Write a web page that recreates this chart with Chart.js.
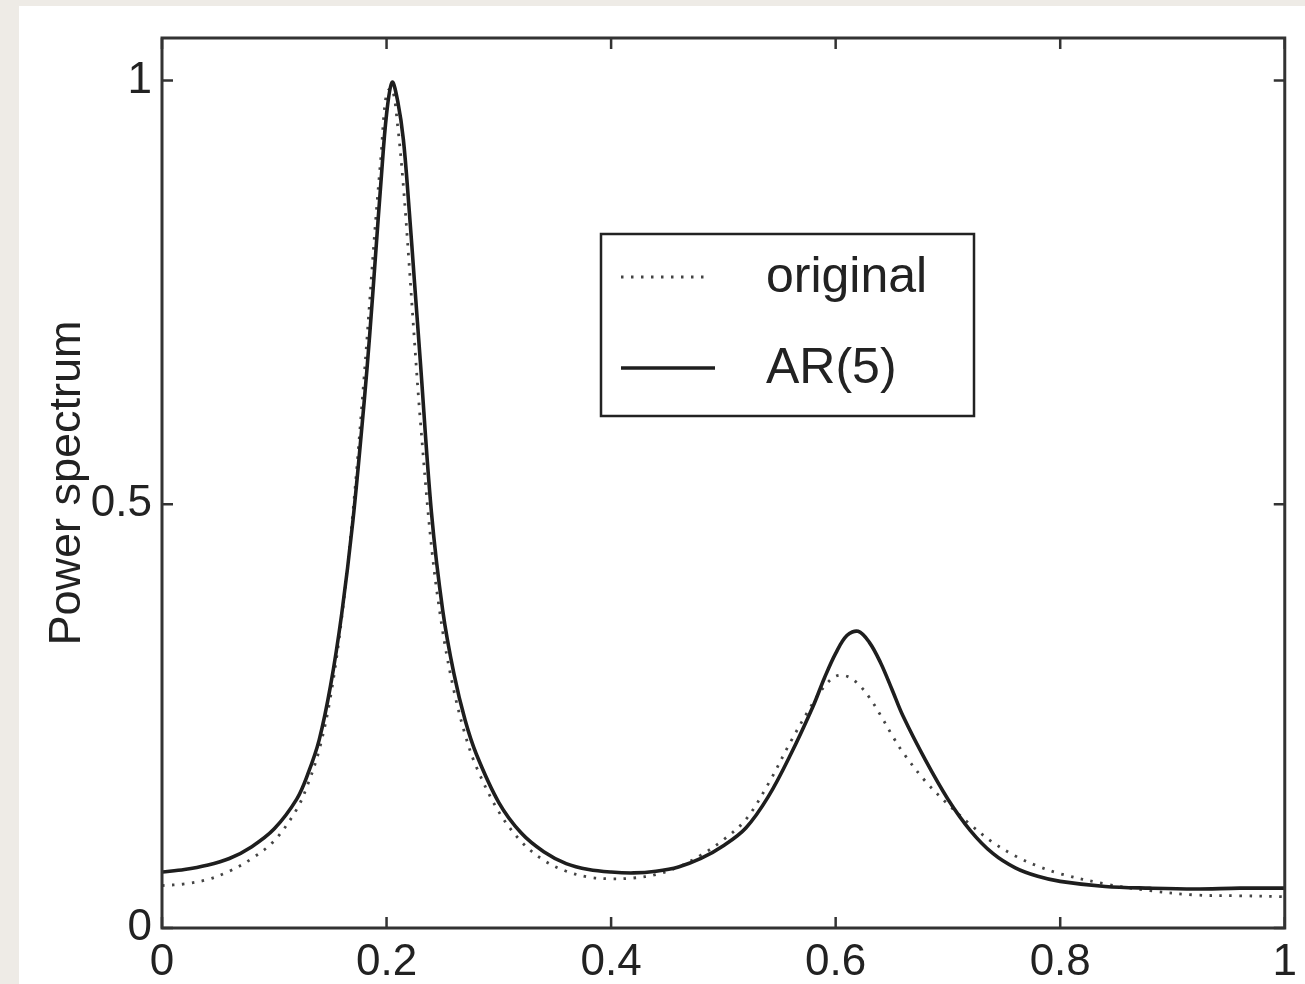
<!DOCTYPE html>
<html>
<head>
<meta charset="utf-8">
<script src="https://cdn.jsdelivr.net/npm/chart.js@4.4.0/dist/chart.umd.min.js"></script>
<style>
  html, body { margin: 0; padding: 0; background: #eeebe6; }
  #wrap { position: relative; width: 1305px; height: 984px; overflow: hidden; }
  #panel { position: absolute; left: 19px; top: 6px; right: 0; bottom: 0; background: #ffffff; }
  #chart { position: absolute; left: 0; top: 0; }
</style>
</head>
<body>
<div id="wrap">
  <div id="panel"></div>
  <canvas id="chart" width="1305" height="984"></canvas>
</div>
<script>
// normalized frequency
const freq = [0, 0.02, 0.04, 0.06, 0.08, 0.10, 0.12, 0.13, 0.14, 0.15, 0.16, 0.17, 0.18, 0.185, 0.19, 0.195,
  0.20, 0.205, 0.21, 0.215, 0.22, 0.225, 0.23, 0.24, 0.25, 0.26, 0.27, 0.28, 0.30, 0.32, 0.34, 0.36, 0.38,
  0.40, 0.42, 0.44, 0.46, 0.48, 0.50, 0.52, 0.54, 0.56, 0.58, 0.59, 0.60, 0.61, 0.62, 0.63, 0.64, 0.65,
  0.66, 0.68, 0.70, 0.72, 0.74, 0.76, 0.78, 0.80, 0.84, 0.88, 0.92, 0.96, 1.0]

// original spectrum (dotted)
const original = [0.050, 0.052, 0.057, 0.067, 0.082, 0.103, 0.140, 0.170, 0.210, 0.272, 0.365, 0.49, 0.65, 0.74, 0.83, 0.91,
  0.985, 0.99, 0.945, 0.875, 0.785, 0.69, 0.60, 0.45, 0.35, 0.28, 0.228, 0.19, 0.137, 0.102, 0.080, 0.067, 0.060,
  0.058, 0.059, 0.063, 0.072, 0.086, 0.104, 0.128, 0.170, 0.220, 0.266, 0.285, 0.297, 0.297, 0.288, 0.272, 0.251, 0.228,
  0.207, 0.173, 0.146, 0.122, 0.101, 0.085, 0.073, 0.064, 0.052, 0.044, 0.039, 0.038, 0.037]

// AR(5) estimate (solid)
const ar5 = [0.066, 0.069, 0.074, 0.082, 0.096, 0.117, 0.152, 0.182, 0.222, 0.285, 0.37, 0.48, 0.62, 0.70, 0.79, 0.88,
  0.96, 0.998, 0.975, 0.93, 0.85, 0.76, 0.67, 0.49, 0.375, 0.30, 0.245, 0.205, 0.148, 0.112, 0.090, 0.076, 0.069,
  0.066, 0.065, 0.067, 0.072, 0.082, 0.097, 0.118, 0.155, 0.205, 0.262, 0.295, 0.324, 0.345, 0.350, 0.337, 0.313, 0.282,
  0.250, 0.198, 0.152, 0.115, 0.088, 0.071, 0.061, 0.055, 0.049, 0.047, 0.046, 0.047, 0.047]

const xTicks = [0, 0.2, 0.4, 0.6, 0.8, 1]
const yTicks = [0, 0.5, 1]
const seriesNames = ['original', 'AR(5)']

const FONT = 'Liberation Sans, Arial, sans-serif'
const INK = '#222222'

// box round the plot, inward ticks on all sides, and the boxed legend
const frame = {
  id: 'frame',
  afterDraw(chart) {
    const ctx = chart.ctx
    const a = chart.chartArea
    const xs = chart.scales.x, ys = chart.scales.y
    const tl = 11
    ctx.save()
    ctx.strokeStyle = '#333333'
    ctx.lineWidth = 3
    ctx.strokeRect(a.left, a.top, a.right - a.left, a.bottom - a.top)
    ctx.lineWidth = 2.5
    ctx.beginPath()
    for (const v of xTicks) {
      const px = xs.getPixelForValue(v)
      ctx.moveTo(px, a.bottom); ctx.lineTo(px, a.bottom - tl)
      ctx.moveTo(px, a.top); ctx.lineTo(px, a.top + tl)
    }
    for (const v of yTicks) {
      const py = ys.getPixelForValue(v)
      ctx.moveTo(a.left, py); ctx.lineTo(a.left + tl, py)
      ctx.moveTo(a.right, py); ctx.lineTo(a.right - tl, py)
    }
    ctx.stroke()

    // legend
    const bx = 601, by = 234, bw = 373, bh = 182
    ctx.lineWidth = 2.5
    ctx.strokeStyle = '#222222'
    ctx.fillStyle = '#ffffff'
    ctx.fillRect(bx, by, bw, bh)
    ctx.strokeRect(bx, by, bw, bh)
    const rows = [277, 368]
    const dsets = [chart.data.datasets[1], chart.data.datasets[0]]
    rows.forEach((ry, i) => {
      const ds = dsets[i]
      ctx.beginPath()
      ctx.strokeStyle = ds.borderColor
      ctx.lineWidth = ds.borderWidth
      ctx.setLineDash(ds.borderDash || [])
      ctx.moveTo(621, ry)
      ctx.lineTo(i === 0 ? 706 : 715, ry)
      ctx.stroke()
      ctx.setLineDash([])
      ctx.fillStyle = INK
      ctx.font = '50px ' + FONT
      ctx.textBaseline = 'middle'
      ctx.textAlign = 'left'
      ctx.fillText(ds.label, 766, ry + 1)
    })
    ctx.restore()
  }
}

const ctx = document.getElementById('chart').getContext('2d')
const chart = new Chart(ctx, {
  type: 'line',
  data: {
    datasets: [
      {
        label: seriesNames[1],
        data: freq.map((f, i) => ({ x: f, y: ar5[i] })),
        borderColor: '#1e1e1e',
        borderWidth: 3.6,
        pointRadius: 0,
        tension: 0.35,
        order: 0
      },
      {
        label: seriesNames[0],
        data: freq.map((f, i) => ({ x: f, y: original[i] })),
        borderColor: '#444444',
        borderWidth: 2.8,
        borderDash: [2.5, 7.5],
        pointRadius: 0,
        tension: 0.35,
        order: 1
      }
    ]
  },
  options: {
    responsive: false,
    animation: false,
    devicePixelRatio: 1,
    layout: { padding: { top: 38, right: 14, left: 0, bottom: 0 } },
    plugins: { legend: { display: false }, tooltip: { enabled: false } },
    scales: {
      x: {
        type: 'linear',
        min: 0,
        max: 1,
        afterBuildTicks: s => { s.ticks = xTicks.map(v => ({ value: v })) },
        afterFit: s => { s.height = 56 },
        grid: { display: false, drawTicks: false },
        border: { display: false },
        ticks: {
          color: INK,
          font: { family: FONT, size: 44 },
          padding: 8,
          maxRotation: 0,
          callback: v => String(v)
        }
      },
      y: {
        type: 'linear',
        min: 0,
        max: 1.05,
        afterBuildTicks: s => { s.ticks = yTicks.map(v => ({ value: v })) },
        afterFit: s => { s.width = 162 },
        grid: { display: false, drawTicks: false },
        border: { display: false },
        ticks: {
          color: INK,
          font: { family: FONT, size: 44 },
          padding: 10,
          callback: v => String(v)
        },
        title: {
          display: true,
          text: 'Power spectrum',
          color: INK,
          font: { family: FONT, size: 45 },
          padding: { top: 41, bottom: 0 }
        }
      }
    }
  },
  plugins: [frame]
})
</script>
</body>
</html>
